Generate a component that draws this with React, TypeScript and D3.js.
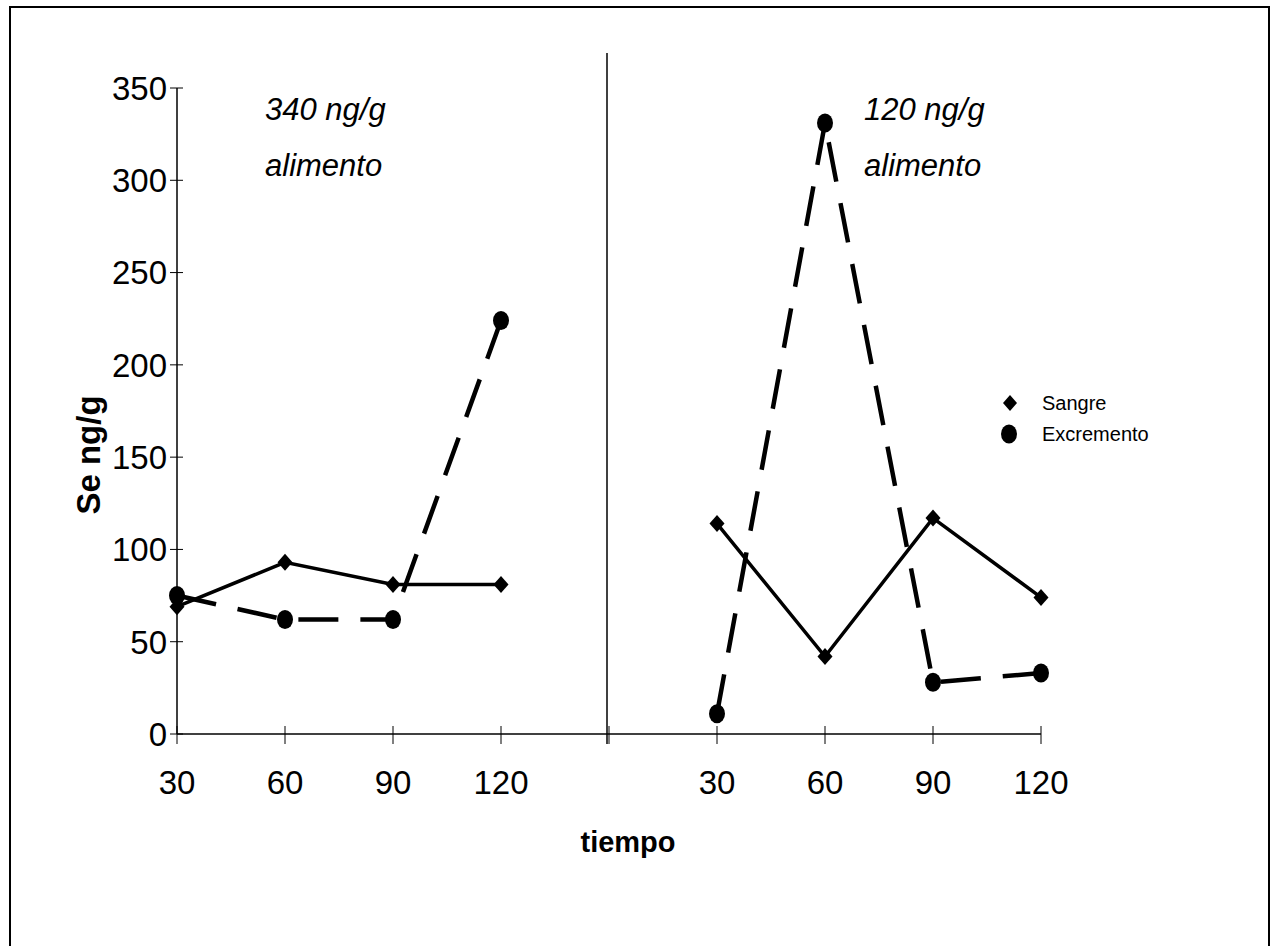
import * as d3 from "d3";

// time points per panel (two feeding levels)
const times = ["30", "60", "90", "120"];
const panels = ["340 ng/g", "120 ng/g"];
const yTicks = [0, 50, 100, 150, 200, 250, 300, 350];

// Se ng/g values
const sangre340 = [69, 93, 81, 81];
const excremento340 = [75, 62, 62, 224];
const sangre120 = [114, 42, 117, 74];
const excremento120 = [11, 331, 28, 33];

const W = 1278;
const H = 946;
const margin = { left: 177, right: 237, top: 88, bottom: 212 };

// 9 slots: 4 times, an empty gap (panel divider), 4 times
const slots = ["a30", "a60", "a90", "a120", "gap", "b30", "b60", "b90", "b120"];

const x = d3
  .scalePoint<string>()
  .domain(slots)
  .range([margin.left, W - margin.right]);
const y = d3
  .scaleLinear()
  .domain([0, 350])
  .range([H - margin.bottom, margin.top]);

const font = "Liberation Sans, Arial, sans-serif";

const diamond = (cx: number, cy: number, r = 8) =>
  `M${cx},${cy - r - 1}L${cx + r},${cy}L${cx},${cy + r + 1}L${cx - r},${cy}Z`;

type Series = { key: string; values: number[]; prefix: string };

const sangreSeries: Series[] = [
  { key: "s340", values: sangre340, prefix: "a" },
  { key: "s120", values: sangre120, prefix: "b" },
];
const excSeries: Series[] = [
  { key: "e340", values: excremento340, prefix: "a" },
  { key: "e120", values: excremento120, prefix: "b" },
];

const line = d3
  .line<[number, number]>()
  .x((d) => d[0])
  .y((d) => d[1]);

const pts = (s: Series): [number, number][] =>
  s.values.map((v, i) => [x(s.prefix + times[i]) as number, y(v)]);

export default function App() {
  const y0 = y(0);
  const divX = x("gap") as number;

  return (
    <svg
      width={W}
      height={H}
      style={{ position: "absolute", left: 0, top: 0, background: "#fff" }}
      fontFamily={font}
    >
      <rect x={10} y={7} width={1259} height={960} fill="none" stroke="#000" strokeWidth={2} />

      {/* y axis */}
      <line x1={margin.left} x2={margin.left} y1={y(350)} y2={y0} stroke="#000" strokeWidth={1.5} />
      {yTicks.map((t) => (
        <g key={t}>
          <line x1={margin.left - 7} x2={margin.left + 6} y1={y(t)} y2={y(t)} stroke="#000" strokeWidth={1} />
          <text x={margin.left - 10} y={y(t)} dy="0.36em" textAnchor="end" fontSize={33}>
            {t}
          </text>
        </g>
      ))}
      <text
        transform={`translate(88,455) rotate(-90)`}
        textAnchor="middle"
        dy="0.36em"
        fontSize={33}
        fontWeight="bold"
      >
        Se ng/g
      </text>

      {/* x axis */}
      <line x1={margin.left} x2={x("b120") as number} y1={y0} y2={y0} stroke="#000" strokeWidth={1.5} />
      {slots.map((s) => (
        <line key={s} x1={x(s) as number} x2={x(s) as number} y1={y0 - 8} y2={y0 + 10} stroke="#000" strokeWidth={1} />
      ))}
      {slots
        .filter((s) => s !== "gap")
        .map((s) => (
          <text key={s} x={x(s) as number} y={y0 + 60} textAnchor="middle" fontSize={33}>
            {s.slice(1)}
          </text>
        ))}
      <text x={628} y={852} textAnchor="middle" fontSize={29} fontWeight="bold">
        tiempo
      </text>

      {/* panel divider */}
      <line x1={divX - 2} x2={divX - 2} y1={53} y2={y0 + 10} stroke="#000" strokeWidth={1.5} />

      {/* panel labels */}
      {panels.map((p, i) => (
        <g key={p} fontStyle="italic" fontSize={31}>
          <text x={i === 0 ? 265 : 864} y={120}>{p}</text>
          <text x={i === 0 ? 265 : 864} y={176}>alimento</text>
        </g>
      ))}

      {/* Excremento: dashed with circles */}
      {excSeries.map((s) => (
        <g key={s.key}>
          <path d={line(pts(s)) ?? ""} fill="none" stroke="#000" strokeWidth={4.5} strokeDasharray="40 22" />
          {pts(s).map(([cx, cy], i) => (
            <ellipse key={i} cx={cx} cy={cy} rx={8} ry={9.5} fill="#000" />
          ))}
        </g>
      ))}

      {/* Sangre: solid with diamonds */}
      {sangreSeries.map((s) => (
        <g key={s.key}>
          <path d={line(pts(s)) ?? ""} fill="none" stroke="#000" strokeWidth={3.5} />
          {pts(s).map(([cx, cy], i) => (
            <path key={i} d={diamond(cx, cy, 7.5)} fill="#000" />
          ))}
        </g>
      ))}

      {/* legend */}
      <path d={diamond(1010, 403, 7)} fill="#000" />
      <text x={1042} y={403} dy="0.36em" fontSize={20}>
        Sangre
      </text>
      <ellipse cx={1009} cy={434} rx={8} ry={9.5} fill="#000" />
      <text x={1042} y={434} dy="0.36em" fontSize={20}>
        Excremento
      </text>
    </svg>
  );
}
